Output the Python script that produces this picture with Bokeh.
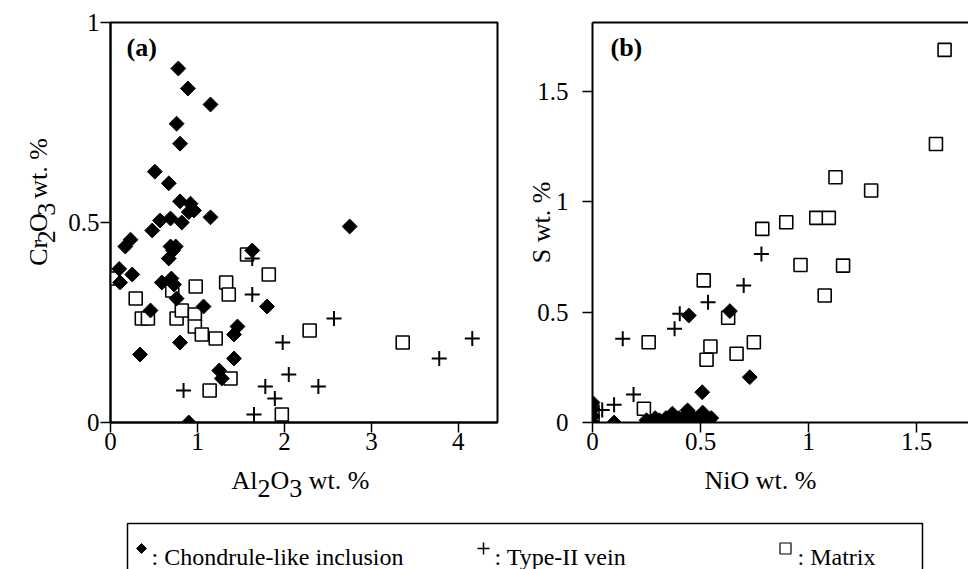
import numpy as np
from bokeh.plotting import figure
from bokeh.layouts import column, row
from bokeh.models import Label, LinearAxis, FixedTicker, Range1d, NumeralTickFormatter
from bokeh.embed import file_html
from bokeh.resources import INLINE
from bokeh.core.properties import value

FONT = "Liberation Serif"

# ---------------- data: panel (a) Al2O3 vs Cr2O3 ----------------
al_a_chon = [0.78, 0.89, 1.15, 0.76, 0.80, 0.51, 0.67, 0.80, 0.92, 0.90, 0.96, 0.82, 1.15,
             0.48, 0.57, 0.69, 0.23, 0.17, 0.69, 0.75, 0.67, 0.72, 1.63, 0.10, 0.25, 0.11,
             0.59, 0.73, 0.76, 0.46, 1.07, 0.80, 0.34, 1.46, 1.42, 1.42, 1.25, 1.28, 0.90,
             1.80, 2.75, 0.70]
cr_a_chon = [0.885, 0.835, 0.795, 0.747, 0.697, 0.627, 0.598, 0.553, 0.547, 0.526, 0.53, 0.50, 0.513,
             0.48, 0.505, 0.51, 0.457, 0.44, 0.44, 0.44, 0.41, 0.43, 0.43, 0.384, 0.37, 0.35,
             0.35, 0.345, 0.31, 0.28, 0.29, 0.20, 0.17, 0.24, 0.22, 0.16, 0.13, 0.11, 0.0,
             0.29, 0.49, 0.36]

al_a_vein = [1.63, 1.63, 2.57, 1.98, 2.05, 1.78, 1.89, 2.39, 0.84, 1.65, 3.78, 4.16]
cr_a_vein = [0.41, 0.32, 0.26, 0.20, 0.12, 0.09, 0.06, 0.09, 0.08, 0.02, 0.16, 0.21]

al_a_mat = [0.02, 0.29, 0.98, 1.33, 1.36, 1.82, 1.57, 0.71, 0.36, 0.43, 0.76, 0.82, 0.97,
            0.97, 1.05, 1.21, 1.38, 1.14, 1.97, 2.29, 3.36]
cr_a_mat = [0.36, 0.31, 0.34, 0.35, 0.32, 0.37, 0.42, 0.33, 0.26, 0.26, 0.26, 0.28, 0.27,
            0.24, 0.22, 0.21, 0.11, 0.08, 0.02, 0.23, 0.20]

# ---------------- data: panel (b) NiO vs S ----------------
ni_b_chon = [0.446, 0.636, 0.728, 0.508, 0.10, 0.0, 0.0, 0.0, 0.0,
             0.25, 0.27, 0.29, 0.30, 0.31, 0.33, 0.34, 0.35, 0.36, 0.37, 0.38, 0.39, 0.40,
             0.41, 0.42, 0.43, 0.44, 0.45, 0.46, 0.47, 0.48, 0.50, 0.51, 0.52, 0.53, 0.55]
s_b_chon = [0.484, 0.504, 0.205, 0.137, 0.0, 0.0, 0.03, 0.06, 0.09,
            0.01, 0.0, 0.02, 0.0, 0.01, 0.0, 0.02, 0.01, 0.0, 0.04, 0.01, 0.0, 0.02,
            0.0, 0.01, 0.03, 0.055, 0.01, 0.0, 0.02, 0.01, 0.0, 0.045, 0.01, 0.0, 0.02]

ni_b_vein = [0.782, 0.70, 0.535, 0.404, 0.38, 0.14, 0.19, 0.10, 0.045, 0.0, 0.0]
s_b_vein = [0.763, 0.62, 0.544, 0.492, 0.424, 0.379, 0.127, 0.08, 0.057, 0.03, 0.0]

ni_b_mat = [1.63, 1.59, 1.125, 1.29, 0.786, 0.897, 1.036, 1.094, 0.963, 1.16, 1.075, 0.515,
            0.26, 0.546, 0.528, 0.628, 0.667, 0.747, 0.238, 0.0, 0.0]
s_b_mat = [1.686, 1.26, 1.11, 1.05, 0.876, 0.906, 0.926, 0.926, 0.713, 0.71, 0.575, 0.643,
           0.363, 0.344, 0.284, 0.474, 0.311, 0.363, 0.062, 0.0, 0.05]

a_xticks = [0, 1, 2, 3, 4]
a_yticks = [0, 0.5, 1]
b_xticks = [0, 0.5, 1, 1.5]
b_yticks = [0, 0.5, 1, 1.5]

legend_labels = [": Chondrule-like inclusion", ": Type-II vein", ": Matrix"]

F = 26          # axis-title font size
TH = 462        # height of the row with the two panels
SH = 569 - TH   # height of the strip below
FA_W = 64       # width of the strip holding the left y title


def style_axis(ax, ticks, standoff):
    ax.ticker = FixedTicker(ticks=ticks)
    ax.formatter = NumeralTickFormatter(format="0.[0]")
    ax.major_label_text_font = FONT
    ax.major_label_text_font_size = "25px"
    ax.major_label_text_color = "black"
    ax.major_label_standoff = standoff
    ax.major_tick_out = 10
    ax.major_tick_in = 0
    ax.major_tick_line_width = 1.5
    ax.major_tick_line_color = "black"
    ax.minor_tick_line_color = None
    ax.axis_line_width = 2
    ax.axis_line_color = "black"


def draw_points(p, cx, cy, vx, vy, mx, my):
    p.scatter(mx, my, marker="square", size=13, fill_color="white", line_color="black", line_width=1.6)
    p.scatter(cx, cy, marker="square", angle=np.pi / 4, size=10.5, fill_color="black", line_color="black")
    p.scatter(vx, vy, marker="cross", size=15, line_color="black", line_width=2)


def panel(width, xr, yr, left, right):
    p = figure(width=width, height=TH, x_range=Range1d(*xr), y_range=Range1d(*yr),
               output_backend="svg", toolbar_location=None,
               min_border_left=left, min_border_right=right, min_border_top=22,
               min_border_bottom=TH - 422)
    p.xgrid.visible = False
    p.ygrid.visible = False
    return p


def blank(width, height):
    p = figure(width=width, height=height, x_range=Range1d(0, width), y_range=Range1d(0, height),
               output_backend="svg", toolbar_location=None, min_border=0,
               x_axis_type=None, y_axis_type=None)
    p.outline_line_color = None
    p.xgrid.visible = False
    p.ygrid.visible = False
    return p


def pieces(p, parts, x0, y0, rotated=False):
    xs, ys, ts = [], [], []
    cum = 0.0
    for txt, adv, sub in parts:
        if rotated:
            xs.append(x0 + sub)
            ys.append(y0 + cum)
        else:
            xs.append(x0 + cum)
            ys.append(y0 - sub)
        ts.append(txt)
        cum += adv * F
    p.text(x=xs, y=ys, text=ts, angle=(np.pi / 2 if rotated else 0.0), text_font=value(FONT),
           text_font_size=f"{F}px", text_color="black", text_align="left", text_baseline="alphabetic")


# ---------------- y-title strip for panel (a) ----------------
fa = blank(FA_W, TH)
cr_parts = [("Cr", 1.0, 0), ("2", 0.5, 8), ("O", 0.722, 0), ("3", 0.75, 8), ("wt. %", 2.333, 0)]
W = 5.305 * F
pieces(fa, cr_parts, 38, (TH - 212) - W / 2, rotated=True)

# ---------------- panel (a) ----------------
pa = panel(522 - FA_W, (0, 4.45), (0, 1.0), 110 - FA_W, 25)
pa.outline_line_color = "black"
pa.outline_line_width = 2
pa.outline_line_alpha = 1
style_axis(pa.xaxis[0], a_xticks, 0)
style_axis(pa.yaxis[0], a_yticks, 1)
draw_points(pa, al_a_chon, cr_a_chon, al_a_vein, cr_a_vein, al_a_mat, cr_a_mat)
pa.add_layout(Label(x=0, y=1.0, x_offset=16, y_offset=-25, text="(a)", text_font=FONT,
                    text_color="black", text_font_size="26px", text_font_style="bold",
                    text_baseline="alphabetic"))

# ---------------- panel (b) ----------------
pb = panel(446, (0, 376 / 216), (0, 1.81), 70, 0)
pb.outline_line_color = None
style_axis(pb.xaxis[0], b_xticks, 0)
style_axis(pb.yaxis[0], b_yticks, 14)
pb.yaxis[0].axis_label = "S wt. %"
pb.yaxis[0].axis_label_text_font = FONT
pb.yaxis[0].axis_label_text_font_size = f"{F}px"
pb.yaxis[0].axis_label_text_font_style = "normal"
pb.yaxis[0].axis_label_text_color = "black"
pb.yaxis[0].axis_label_standoff = -22
top = LinearAxis(ticker=FixedTicker(ticks=[]), major_tick_line_color=None,
                 minor_tick_line_color=None, axis_line_width=2, axis_line_color="black")
pb.add_layout(top, "above")
draw_points(pb, ni_b_chon, s_b_chon, ni_b_vein, s_b_vein, ni_b_mat, s_b_mat)
pb.add_layout(Label(x=0, y=1.81, x_offset=18, y_offset=-25, text="(b)", text_font=FONT,
                    text_color="black", text_font_size="26px", text_font_style="bold",
                    text_baseline="alphabetic"))

# ---------------- bottom strip: x titles + legend ----------------
st = blank(968, SH)
base = 569 - 480
al_parts = [("Al", 1.0, 0), ("2", 0.5, 8), ("O", 0.722, 0), ("3", 0.75, 8), ("wt. %", 2.333, 0)]
pieces(st, al_parts, 300 - W / 2, base)
st.text(x=[760], y=[base], text=["NiO wt. %"], text_font=value(FONT), text_font_size=f"{F}px",
        text_color="black", text_align="center", text_baseline="alphabetic")

st.line(x=[127, 127, 922, 922], y=[-10, 569 - 523, 569 - 523, -10], line_color="black", line_width=1.5)
ly = 569 - 548
st.scatter([141], [ly], marker="square", angle=np.pi / 4, size=7, fill_color="black", line_color="black")
st.scatter([483], [ly], marker="cross", size=12, line_color="black", line_width=1.5)
st.scatter([785], [ly], marker="square", size=11, fill_color="white", line_color="black", line_width=1.2)
st.text(x=[151, 494, 797], y=[569 - 556] * 3, text=legend_labels, text_font=value(FONT),
        text_font_size="24px", text_color="black", text_baseline="alphabetic", text_align="left")

layout = column(row(fa, pa, pb), st)
open("out.html", "w").write(file_html(layout, INLINE))
